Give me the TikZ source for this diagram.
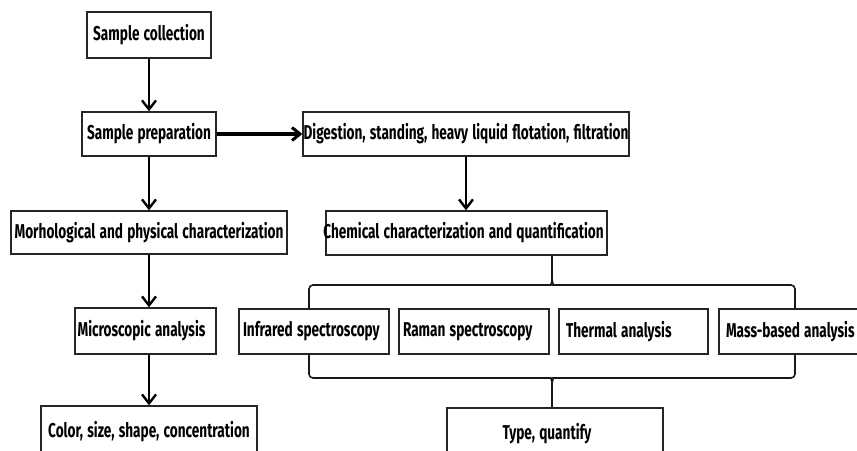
\documentclass[tikz,border=0pt]{standalone}
\usepackage{fontspec}
\setmainfont{Fira Sans}[FakeStretch=0.68]
\usetikzlibrary{arrows.meta}
\newcommand\boxfontx{\fontsize{20}{22}\selectfont\bfseries\spaceskip 4.2pt\relax}
\newcommand\lftx[2]{\makebox[#1][l]{#2}}
\begin{document}
\begin{tikzpicture}[x=1pt,y=-1pt,
  bx/.style={draw=black!85, line width=1.3pt, inner sep=0pt, font=\boxfontx},
  arr/.style={line width=2.4pt, -{Straight Barb[length=9pt,width=14pt,line width=2.4pt]}},
  harr/.style={line width=3.8pt, -{Straight Barb[length=8pt,width=13pt,line width=3pt]}},
  brc/.style={line width=1.6pt, draw=black!90, rounded corners=4pt}]
\useasboundingbox (0,0) rectangle (857,450);
\fill[white] (0,0) rectangle (857,450);

\node[bx, minimum width=124, minimum height=46] (sc) at (149,35) {Sample collection};
\node[bx, minimum width=134, minimum height=44] (sp) at (149,134) {Sample preparation};
\node[bx, minimum width=326, minimum height=44] (dig) at (466,134) {Digestion, standing, heavy liquid flotation, filtration};
\node[bx, minimum width=276, minimum height=43] (morph) at (149,232.5) {Morhological and physical characterization};
\node[bx, minimum width=281, minimum height=44] (chem) at (466.5,233) {\hspace*{-6pt}Chemical characterization and quantification};
\node[bx, minimum width=141, minimum height=46] (micro) at (145.5,331) {\hspace*{-8pt}Microscopic analysis};
\node[bx, minimum width=150, minimum height=45] (ir) at (314,331.5) {\lftx{142pt}{Infrared spectroscopy}};
\node[bx, minimum width=150, minimum height=45] (ram) at (474,331.5) {\lftx{142pt}{Raman spectroscopy}};
\node[bx, minimum width=149, minimum height=45] (th) at (633.5,331.5) {\lftx{135pt}{Thermal analysis}};
\node[bx, minimum width=151, minimum height=45] (mass) at (794.5,331.5) {\lftx{137pt}{Mass-based analysis}};
\node[bx, minimum width=216, minimum height=52] (col) at (149,432) {Color, size, shape, concentration};
\node[bx, minimum width=216, minimum height=52] (typ) at (555,434) {\hspace*{-16pt}Type, quantify};

\draw[arr] (sc.south) -- (sp.north);
\draw[arr] (sp.south) -- (morph.north);
\draw[arr] (morph.south) -- (morph.south |- micro.north);
\draw[arr] (col.north |- micro.south) -- (col.north);
\draw[arr] (dig.south) -- (dig.south |- chem.north);
\draw[harr] (sp.east) -- (dig.west);

\coordinate (tp) at (552,255);
\coordinate (tl) at (309,309);
\coordinate (tr) at (795,309);
\draw[brc] (tl) -- (309,285) -- (547,285) to[out=0,in=-90] (552,278) -- (chem.south -| tp);
\draw[brc] (tr) -- (795,285) -- (557,285) to[out=180,in=-90] (552,278);

\coordinate (bl) at (309,354);
\coordinate (br) at (795,354);
\draw[brc] (bl) -- (309,378) -- (547,378) to[out=0,in=90] (552,385) -- (typ.north -| tp);
\draw[brc] (br) -- (795,378) -- (557,378) to[out=180,in=90] (552,385);
\end{tikzpicture}
\end{document}
